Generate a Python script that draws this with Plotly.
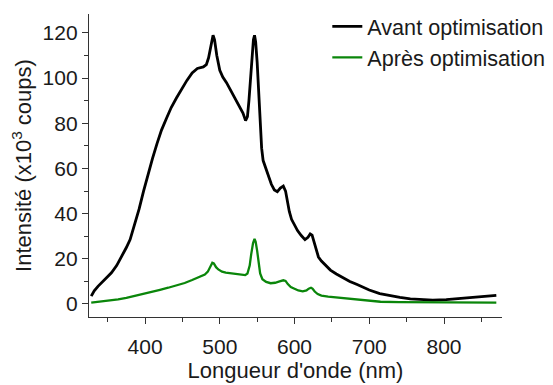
import plotly.graph_objects as go

# Wavelength (nm) and intensity (x10^3 counts)
avant_nm = [328, 332, 337, 345, 355, 362, 369, 375, 380, 386, 392, 398, 404, 410, 416, 422, 429, 435,
            442, 449, 456, 463, 470, 478, 482, 485, 488, 491, 493, 496, 500, 504, 509, 515, 522, 527,
            531, 534.5, 537, 539, 541, 543, 545, 546.5, 548, 550, 552, 554, 556, 558, 561, 565, 569,
            573, 577, 581, 585, 588, 590, 593, 596, 600, 604, 609, 614, 618, 621, 623.5, 626, 629,
            632, 636, 641, 648, 656, 665, 674, 683, 692, 700, 714, 725, 741, 755, 768, 785, 803, 820,
            839, 855, 870]
avant_val = [3.5, 5.8, 7.8, 10.5, 13.8, 17, 21, 25, 28.5, 35, 42, 50, 57.5, 64.5, 71, 77, 82.5, 87,
             91.2, 95.2, 99, 102.3, 104.3, 105, 106, 109, 115, 119, 117, 110, 103.5, 100.5, 98, 94.5, 90.3, 87.5,
             84.5, 81.2, 83, 90, 100, 110, 117, 119, 116, 107, 95, 82, 69, 63.5, 60.5, 57, 53,
             50.5, 49.7, 51.3, 52.2, 50, 46, 41, 37.5, 35, 32.5, 30.3, 28.5, 29.5, 31, 30.5, 27.5, 23.5,
             20.8, 19, 17.3, 15, 13.3, 11.5, 10, 8.7, 7.4, 6.2, 4.6, 3.8, 2.9, 2.3, 1.9, 1.7, 1.9, 2.3,
             2.9, 3.3, 3.8]

apres_nm = [328, 340, 352, 364, 375, 386, 396, 408, 420, 431, 442, 453, 463, 472, 480, 484, 487, 490,
            492, 495, 498, 503, 508, 515, 522, 529, 534, 537, 540, 542, 544.5, 546.5, 548, 550, 552,
            554, 557, 562, 568, 574, 580, 585, 588, 591, 595, 600, 605, 611, 616, 619, 622, 624, 627,
            631, 636, 645, 656, 670, 685, 700, 715, 740, 770, 800, 840, 870]
apres_val = [0.6, 1.0, 1.4, 2.0, 2.7, 3.5, 4.3, 5.3, 6.3, 7.2, 8.2, 9.3, 10.6, 12, 13, 14.3, 16.2, 18.3,
             18, 16.3, 15.3, 14.3, 13.9, 13.6, 13.3, 13, 12.8, 13.5, 17, 22, 27, 28.8, 27.5, 23.5, 18,
             13.5, 11, 9.8, 9.2, 9.4, 10, 10.5, 10.2, 8.8, 7.5, 6.6, 6.0, 5.6, 6.0, 6.8, 7.2, 6.8, 5.5,
             4.4, 3.7, 3.3, 2.9, 2.4, 1.9, 1.3, 1.0, 0.8, 0.7, 0.6, 0.6, 0.6]

x_ticks = [400, 500, 600, 700, 800]
y_ticks = [0, 20, 40, 60, 80, 100, 120]

FONT = "Liberation Sans, Arial, sans-serif"

fig = go.Figure()
fig.add_trace(go.Scatter(x=avant_nm, y=avant_val, mode="lines", name="Avant optimisation",
                         line=dict(color="#000000", width=2.8)))
fig.add_trace(go.Scatter(x=apres_nm, y=apres_val, mode="lines", name="Après optimisation",
                         line=dict(color="#0a860a", width=2.3)))

axis_common = dict(showgrid=False, zeroline=False, showline=True, linecolor="#333333", linewidth=1.3,
                   ticks="outside", tickcolor="#333333", tickwidth=1.3, ticklen=6, automargin=False,
                   tickfont=dict(family=FONT, size=21, color="#1a1a1a"))

# the page body adds an 8px offset, so the figure is 8px smaller than the window
fig.update_layout(
    width=545, height=377,
    margin=dict(l=81, r=51, t=6, b=68, autoexpand=False),
    paper_bgcolor="white", plot_bgcolor="white",
    font=dict(family=FONT, size=21, color="#1a1a1a"),
    xaxis=dict(range=[325, 877.6], tickvals=x_ticks, ticktext=[str(v) for v in x_ticks],
               ticklabelstandoff=5,
               minor=dict(ticks="outside", ticklen=4, tickcolor="#333333", tickwidth=1.3,
                          tickvals=[350, 450, 550, 650, 750, 850]),
               title=dict(text="Longueur d'onde (nm)", font=dict(family=FONT, size=22), standoff=4),
               **axis_common),
    yaxis=dict(range=[-5.76, 128.4], tickvals=y_ticks, ticktext=[str(v) for v in y_ticks],
               minor=dict(ticks="outside", ticklen=4, tickcolor="#333333", tickwidth=1.3,
                          tickvals=[10, 30, 50, 70, 90, 110]),
               title=dict(text="Intensité (x10<sup>3</sup> coups)", font=dict(family=FONT, size=22), standoff=8),
               **axis_common),
    legend=dict(x=0.577, y=1.027, xanchor="left", yanchor="top", bgcolor="rgba(0,0,0,0)",
                font=dict(family=FONT, size=21.6, color="#1a1a1a"), tracegroupgap=0,
                itemwidth=30),
    showlegend=True,
)

fig.write_html("out.html")
